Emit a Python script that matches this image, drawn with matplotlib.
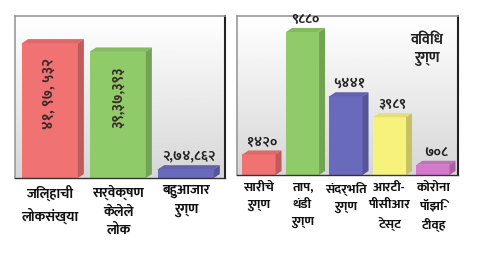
import matplotlib
matplotlib.use('Agg')
from matplotlib import pyplot as plt
from matplotlib.patches import Polygon
import numpy as np

plt.rcParams['font.family'] = ['Mukta', 'Sura', 'DejaVu Sans']

# left panel
left_cats = ['जिल्हाची\nलोकसंख्या', 'सर्वेक्षण\nकेलेले\nलोक', 'बहुआजार\nरुग्ण']
left_vals = [4197532, 3937393, 274862]
left_text = ['४१, ९७, ५३२', '३९,३७,३९३', '२,७४,८६२']
left_cols = ['#f07272', '#8fcb68', '#6a6abd']

# right panel
right_cats = ['सारीचे\nरुग्ण', 'ताप,\nथंडी\nरुग्ण', 'संदर्भित\nरुग्ण', 'आरटी-\nपीसीआर\nटेस्ट', 'कोरोना\nपॉझि-\nटीव्ह']
right_vals = [1420, 9880, 5441, 3989, 708]
right_text = ['१४२०', '९८८०', '५४४१', '३९८९', '७०८']
right_cols = ['#f07272', '#8fcb68', '#6a6abd', '#f7f27c', '#d678cc']
right_title = 'विविध\nरुग्ण'


def darker(c, f=0.75):
    rgb = np.array(matplotlib.colors.to_rgb(c))
    return tuple(rgb * f)


def panel(ax, vals, cols, width, ymax, xlim, px_w, px_h):
    xs = np.arange(len(vals))
    ax.set_xlim(*xlim)
    ax.set_ylim(0, ymax)
    # background gradient
    grad = np.linspace(0.84, 1.0, 100).reshape(-1, 1)
    ax.imshow(grad, cmap='gray', vmin=0, vmax=1, aspect='auto',
              extent=(xlim[0], xlim[1], ymax, 0), zorder=0)
    ax.set_ylim(0, ymax)
    # 3d offsets (6px right, 4px up) in data units
    dx = 6 * (xlim[1] - xlim[0]) / px_w
    dy = 4 * ymax / px_h
    for x, v, c in zip(xs, vals, cols):
        x0 = x - width / 2
        x1 = x + width / 2
        ax.bar(x, v, width=width, color=c, edgecolor='none', zorder=2)
        top = Polygon([(x0, v), (x1, v), (x1 + dx, v + dy), (x0 + dx, v + dy)],
                      closed=True, facecolor=darker(c, 0.92), edgecolor='none', zorder=2)
        side = Polygon([(x1, 0), (x1 + dx, dy), (x1 + dx, v + dy), (x1, v)],
                       closed=True, facecolor=darker(c, 0.8), edgecolor='none', zorder=2)
        ax.add_patch(top)
        ax.add_patch(side)
    for s in ['top', 'left']:
        ax.spines[s].set_color('#9a9a9a')
        ax.spines[s].set_linewidth(1.2)
    ax.spines['right'].set_color('#222222')
    ax.spines['right'].set_linewidth(1.5)
    ax.spines['bottom'].set_color('#333333')
    ax.spines['bottom'].set_linewidth(1.0)
    ax.set_yticks([])
    ax.tick_params(axis='x', length=0, pad=5)
    return xs


fig = plt.figure(figsize=(4.8, 2.6), dpi=100)

ax1 = fig.add_axes([15 / 480, 82 / 260, 210 / 480, 162 / 260])
xs1 = panel(ax1, left_vals, left_cols, 0.82, 5.04e6, (-0.515, 2.574), 210, 162)
ax1.set_xticks(xs1)
ax1.set_xticklabels(left_cats, fontsize=10, fontweight='bold', linespacing=1.5, va='top',
                    color='#111111')
for i in range(2):
    ax1.annotate(left_text[i], (xs1[i], left_vals[i]), xytext=(0, -15),
                 textcoords='offset pixels', rotation=90, ha='center', va='top',
                 fontsize=10.5, fontweight='bold', color='#3a2a2a', zorder=3)
ax1.annotate(left_text[2], (xs1[2], left_vals[2]), xytext=(3, 6),
             textcoords='offset pixels', ha='center', va='bottom',
             fontsize=10, fontweight='bold', color='#222222', zorder=3)

ax2 = fig.add_axes([237 / 480, 85 / 260, 221 / 480, 159 / 260])
xs2 = panel(ax2, right_vals, right_cols, 0.76, 10985, (-0.506, 4.575), 221, 159)
ax2.set_xticks(xs2)
ax2.set_xticklabels(right_cats, fontsize=9.5, fontweight='bold', linespacing=1.55, va='top',
                    color='#111111')
for x, v, t in zip(xs2, right_vals, right_text):
    ax2.annotate(t, (x, v), xytext=(3, 6), textcoords='offset pixels',
                 ha='center', va='bottom', fontsize=10, fontweight='bold',
                 color='#222222', zorder=3)
ax2.text(0.86, 0.89, right_title, transform=ax2.transAxes, ha='center', va='top',
         fontsize=10.5, fontweight='bold', linespacing=1.5, color='#222222', zorder=3)

fig.savefig('out.png', dpi=100)
